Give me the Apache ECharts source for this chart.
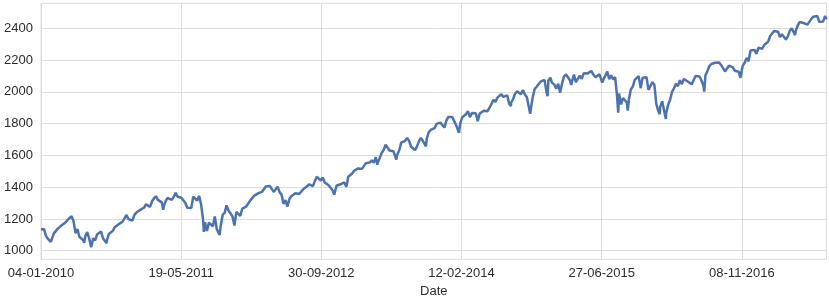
<!DOCTYPE html>
<html><head><meta charset="utf-8">
<script src="https://cdn.jsdelivr.net/npm/echarts@6/dist/echarts.min.js"></script>
<style>html,body{margin:0;padding:0;background:#fff}#c{width:829px;height:297px}</style>
</head><body><div id="c"></div>
<script>
const originDate = '2010-01-04';
const lastDate = '2017-09-06';
const yTicks = [1000, 1200, 1400, 1600, 1800, 2000, 2200, 2400];

// Weekly (Friday) closes, each list starting at its own first Friday
const weekStart2010 = '2010-01-08';
const close2010 = [1145,1136,1092,1074,1066,1075,1109,1104,1139,1150,1160,1167,1179,1194,1192,1217,1187,1111,1136,1088,1089,1065,1092,1117,1076,1022,1078,1065,1102,1102,1121,1079,1071,1065,1105,1110,1125,1148,1146,1166,1176,1183,1183,1225,1199,1199,1189,1225,1240,1244,1257,1258];
const weekStart2011 = '2011-01-07';
const close2011 = [1272,1293,1283,1276,1311,1329,1343,1320,1321,1304,1279,1314,1332,1329,1320,1337,1364,1340,1338,1333,1331,1300,1271,1271,1268,1340,1344,1316,1345,1292,1199,1179,1124,1177,1174,1154,1216,1136,1131,1155,1225,1238,1285,1253,1264,1216,1159,1244,1255,1219,1265,1258];
const weekStart2012 = '2012-01-06';
const close2012 = [1278,1289,1315,1316,1345,1343,1361,1366,1370,1371,1404,1397,1408,1398,1370,1378,1403,1369,1353,1295,1318,1278,1325,1343,1335,1362,1355,1357,1363,1386,1391,1405,1418,1411,1407,1438,1466,1460,1441,1461,1429,1433,1412,1414,1380,1360,1409,1416,1418,1414,1430,1402];
const weekStart2013 = '2013-01-04';
const close2013 = [1466,1472,1486,1503,1513,1518,1520,1515,1518,1551,1561,1556,1569,1553,1588,1555,1582,1614,1633,1667,1650,1631,1643,1626,1593,1606,1632,1680,1692,1692,1710,1691,1656,1664,1633,1655,1688,1710,1692,1691,1703,1745,1760,1762,1771,1798,1804,1806,1805,1775,1819,1842];
const weekStart2014 = '2014-01-03';
const close2014 = [1831,1842,1839,1790,1783,1797,1838,1836,1859,1878,1841,1866,1857,1865,1815,1864,1863,1881,1878,1878,1900,1924,1950,1936,1963,1961,1985,1968,1978,1978,1925,1931,1955,1988,2003,2008,1985,2011,1983,1967,1906,1887,1965,2018,2032,2040,2064,2068,2075,2002,2071,2089];
const weekStart2015 = '2015-01-02';
const close2015 = [2058,2045,2019,2051,1995,2055,2097,2110,2105,2071,2053,2108,2061,2067,2102,2081,2117,2108,2116,2123,2126,2107,2092,2094,2110,2102,2077,2077,2127,2080,2104,2078,2092,1971,1989,1921,1961,1958,1932,1951,2015,2033,2075,2079,2099,2023,2089,2090,2092,2012,2006,2061,2044];
const weekStart2016 = '2016-01-08';
const close2016 = [1922,1880,1907,1940,1880,1865,1918,1948,2000,2022,2050,2036,2073,2048,2081,2092,2065,2057,2047,2052,2099,2099,2096,2071,2037,2103,2130,2162,2175,2174,2183,2184,2184,2169,2180,2128,2139,2165,2168,2153,2133,2141,2126,2085,2164,2182,2213,2192,2260,2258,2264,2239];
const weekStart2017 = '2017-01-06';
const close2017 = [2277,2275,2271,2295,2297,2316,2351,2367,2383,2373,2378,2344,2363,2355,2329,2349,2384,2399,2391,2382,2416,2439,2432,2433,2438,2423,2425,2459,2473,2472,2477,2441,2426,2443,2477];

// Extra daily closes (turning points)
const extraDates = ['2010-01-04','2010-02-08','2010-06-07','2010-08-26','2011-03-16','2011-05-02','2011-06-15','2011-08-08','2011-08-22','2011-10-03','2012-04-02','2012-06-04','2012-11-15','2012-12-31','2013-04-18','2013-06-24','2013-10-08','2013-12-31','2014-02-03','2014-04-11','2014-08-07','2014-10-15','2014-12-16','2014-12-31','2015-03-10','2015-05-21','2015-06-29','2015-08-25','2015-09-28','2016-01-20','2016-02-11','2016-06-27','2016-09-09','2016-11-03','2017-03-27','2017-05-17','2017-08-08','2017-08-17','2017-09-05','2017-09-06'];
const extraCloses = [1133,1056,1050,1047,1257,1361,1265,1119,1123,1099,1419,1278,1353,1426,1541,1573,1656,1848,1742,1815,1910,1862,1973,2059,2044,2131,2058,1868,1882,1859,1829,2001,2128,2088,2341,2357,2474,2430,2458,2465];

const DAY = 86400000;
const t0 = Date.parse(originDate + 'T00:00:00Z');
const dayOf = s => Math.round((Date.parse(s + 'T00:00:00Z') - t0) / DAY);
const weekly = [[weekStart2010,close2010],[weekStart2011,close2011],[weekStart2012,close2012],[weekStart2013,close2013],[weekStart2014,close2014],[weekStart2015,close2015],[weekStart2016,close2016],[weekStart2017,close2017]];
const pts = [];
weekly.forEach(([s, arr]) => { const d0 = dayOf(s); arr.forEach((v, i) => pts.push([d0 + 7 * i, v])); });
extraDates.forEach((s, i) => pts.push([dayOf(s), extraCloses[i]]));
pts.sort((a, b) => a[0] - b[0]);

const pad = n => String(n).padStart(2, '0');
const fmt = v => { const d = new Date(t0 + v * DAY); return pad(d.getUTCDate()) + '-' + pad(d.getUTCMonth() + 1) + '-' + d.getUTCFullYear(); };

const gridColor = '#dcdcdc';
const textColor = '#2b2b2b';
const font = 'Liberation Sans, Arial, sans-serif';

const chart = echarts.init(document.getElementById('c'), null, {renderer: 'canvas'});
chart.setOption({
  animation: false,
  backgroundColor: '#ffffff',
  grid: {left: 41, right: 2.5, top: 3.3, bottom: 37.7, show: true, borderColor: gridColor, borderWidth: 1, containLabel: false, outerBoundsMode: 'none'},
  xAxis: {
    type: 'value', min: 0, max: dayOf(lastDate), interval: 500,
    axisLine: {show: false}, axisTick: {show: false},
    splitLine: {show: true, lineStyle: {color: gridColor, width: 1}},
    axisLabel: {formatter: fmt, color: textColor, fontSize: 13, fontFamily: font, margin: 8, showMaxLabel: false},
    name: 'Date', nameLocation: 'middle', nameGap: 23,
    nameTextStyle: {color: textColor, fontSize: 13, fontFamily: font}
  },
  yAxis: {
    type: 'value', min: 946, max: 2557,
    axisLine: {show: false},
    axisTick: {show: false, customValues: yTicks},
    splitLine: {show: true, lineStyle: {color: gridColor, width: 1}},
    axisLabel: {color: textColor, fontSize: 13, fontFamily: font, margin: 8, customValues: yTicks, formatter: v => String(v)}
  },
  series: [{
    type: 'line', data: pts, showSymbol: false, symbol: 'none',
    lineStyle: {color: '#4c72b0', width: 2.5}, itemStyle: {color: '#4c72b0'}
  }]
});
</script>
</body></html>
